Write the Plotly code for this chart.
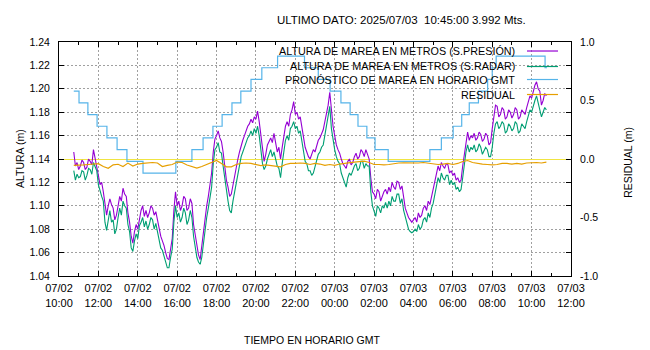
import pandas as pd
import plotly.graph_objects as go

# ---- data -------------------------------------------------------------
# Sea level (m), 5-minute samples starting 2025-07-02 10:45 GMT
START = "2025-07-02 10:45"
PRESION = [
    1.146, 1.134, 1.137,
    1.131, 1.134, 1.139, 1.137, 1.131, 1.133, 1.140, 1.138, 1.135, 1.148, 1.141, 1.136,  # 11h
    1.126, 1.118, 1.120, 1.112, 1.100, 1.092, 1.100, 1.106, 1.101, 1.098, 1.088, 1.092,  # 12h
    1.100, 1.108, 1.104, 1.115, 1.110, 1.108, 1.094, 1.086, 1.074, 1.068, 1.078, 1.084,  # 13h
    1.080, 1.090, 1.096, 1.100, 1.091, 1.096, 1.090, 1.094, 1.100, 1.098, 1.092, 1.095,  # 14h
    1.088, 1.078, 1.074, 1.070, 1.066, 1.060, 1.055, 1.054, 1.064, 1.072, 1.096, 1.112,  # 15h
    1.100, 1.104, 1.096, 1.100, 1.108, 1.106, 1.096, 1.098, 1.106, 1.102, 1.084, 1.075,  # 16h
    1.064, 1.058, 1.054, 1.066, 1.078, 1.090, 1.100, 1.108, 1.120, 1.128, 1.146, 1.157,  # 17h
    1.160, 1.164, 1.158, 1.155, 1.146, 1.134, 1.122, 1.116, 1.108, 1.110, 1.118, 1.124,  # 18h
    1.132, 1.140, 1.146, 1.152, 1.156, 1.160, 1.164, 1.168, 1.170, 1.174, 1.171, 1.176,  # 19h
    1.174, 1.181, 1.172, 1.160, 1.146, 1.138, 1.144, 1.152, 1.155, 1.158, 1.154, 1.162,  # 20h
    1.154, 1.146, 1.150, 1.140, 1.150, 1.160, 1.168, 1.172, 1.168, 1.178, 1.182, 1.189,  # 21h
    1.178, 1.180, 1.174, 1.176, 1.166, 1.156, 1.150, 1.146, 1.142, 1.140, 1.144, 1.148,  # 22h
    1.146, 1.152, 1.156, 1.158, 1.162, 1.165, 1.172, 1.178, 1.186, 1.197, 1.180, 1.168,  # 23h
    1.160, 1.152, 1.148, 1.145, 1.140, 1.136, 1.134, 1.132, 1.138, 1.140, 1.135, 1.137,  # 00h
    1.142, 1.145, 1.140, 1.142, 1.148, 1.146, 1.142, 1.148, 1.144, 1.140, 1.124, 1.112,  # 01h
    1.110, 1.106, 1.114, 1.112, 1.104, 1.108, 1.112, 1.114, 1.110, 1.116, 1.112, 1.120,  # 02h
    1.116, 1.114, 1.121, 1.120, 1.114, 1.117, 1.106, 1.098, 1.094, 1.090, 1.088, 1.086,  # 03h
    1.088, 1.090, 1.086, 1.094, 1.090, 1.092, 1.098, 1.100, 1.096, 1.104, 1.101, 1.108,  # 04h
    1.112, 1.120, 1.128, 1.134, 1.130, 1.137, 1.134, 1.132, 1.136, 1.135, 1.128, 1.130,  # 05h
    1.126, 1.128, 1.122, 1.124, 1.120, 1.122, 1.134, 1.145, 1.156, 1.163, 1.156, 1.160,  # 06h
    1.158, 1.162, 1.156, 1.158, 1.163, 1.161, 1.155, 1.157, 1.162, 1.160, 1.152, 1.154,  # 07h
    1.166, 1.178, 1.186, 1.185, 1.176, 1.178, 1.184, 1.182, 1.174, 1.176, 1.182, 1.180,  # 08h
    1.175, 1.178, 1.184, 1.182, 1.174, 1.176, 1.182, 1.180, 1.178, 1.184, 1.190, 1.194,  # 09h
    1.192, 1.198, 1.203, 1.206, 1.200, 1.198, 1.186, 1.190, 1.196, 1.194,                # 10h
]
RADAR = [
    1.130, 1.122, 1.127,
    1.124, 1.125, 1.130, 1.129, 1.122, 1.126, 1.132, 1.131, 1.127, 1.137, 1.133, 1.130,  # 11h
    1.118, 1.112, 1.108, 1.104, 1.086, 1.079, 1.090, 1.096, 1.086, 1.088, 1.076, 1.080,  # 12h
    1.090, 1.098, 1.092, 1.104, 1.100, 1.098, 1.084, 1.078, 1.064, 1.061, 1.070, 1.076,  # 13h
    1.072, 1.083, 1.086, 1.090, 1.082, 1.087, 1.080, 1.084, 1.090, 1.088, 1.080, 1.085,  # 14h
    1.078, 1.070, 1.064, 1.062, 1.056, 1.052, 1.047, 1.047, 1.056, 1.063, 1.086, 1.100,  # 15h
    1.090, 1.094, 1.086, 1.090, 1.098, 1.094, 1.084, 1.088, 1.096, 1.090, 1.074, 1.066,  # 16h
    1.056, 1.052, 1.050, 1.056, 1.068, 1.080, 1.090, 1.098, 1.108, 1.116, 1.136, 1.148,  # 17h
    1.150, 1.154, 1.146, 1.145, 1.134, 1.124, 1.110, 1.104, 1.096, 1.094, 1.104, 1.112,  # 18h
    1.120, 1.128, 1.134, 1.142, 1.146, 1.150, 1.154, 1.158, 1.160, 1.164, 1.160, 1.166,  # 19h
    1.162, 1.168, 1.160, 1.148, 1.136, 1.131, 1.134, 1.140, 1.144, 1.148, 1.142, 1.146,  # 20h
    1.140, 1.134, 1.132, 1.124, 1.136, 1.148, 1.156, 1.160, 1.156, 1.166, 1.168, 1.172,  # 21h
    1.166, 1.168, 1.162, 1.164, 1.154, 1.144, 1.138, 1.136, 1.130, 1.130, 1.126, 1.128,  # 22h
    1.134, 1.140, 1.144, 1.146, 1.150, 1.152, 1.160, 1.166, 1.174, 1.185, 1.166, 1.156,  # 23h
    1.148, 1.142, 1.138, 1.136, 1.128, 1.124, 1.120, 1.116, 1.124, 1.128, 1.126, 1.130,  # 00h
    1.134, 1.136, 1.130, 1.132, 1.138, 1.138, 1.132, 1.136, 1.134, 1.134, 1.112, 1.100,  # 01h
    1.096, 1.091, 1.100, 1.098, 1.094, 1.100, 1.098, 1.103, 1.098, 1.104, 1.100, 1.108,  # 02h
    1.104, 1.104, 1.110, 1.110, 1.102, 1.106, 1.096, 1.090, 1.084, 1.080, 1.078, 1.077,  # 03h
    1.078, 1.080, 1.078, 1.084, 1.080, 1.082, 1.088, 1.090, 1.086, 1.094, 1.090, 1.098,  # 04h
    1.102, 1.110, 1.118, 1.124, 1.120, 1.128, 1.124, 1.122, 1.126, 1.126, 1.118, 1.122,  # 05h
    1.118, 1.120, 1.114, 1.116, 1.112, 1.114, 1.124, 1.136, 1.146, 1.152, 1.146, 1.150,  # 06h
    1.148, 1.152, 1.146, 1.148, 1.153, 1.150, 1.144, 1.147, 1.150, 1.148, 1.142, 1.142,  # 07h
    1.150, 1.162, 1.170, 1.172, 1.166, 1.168, 1.172, 1.170, 1.162, 1.164, 1.170, 1.168,  # 08h
    1.164, 1.166, 1.172, 1.170, 1.162, 1.164, 1.170, 1.168, 1.166, 1.172, 1.178, 1.182,  # 09h
    1.180, 1.186, 1.190, 1.194, 1.188, 1.184, 1.176, 1.180, 1.184, 1.182,                # 10h
]

# Tide forecast (m): value holds from each time until the next one
PRONOSTICO_T = [
    "2025-07-02 10:45", "2025-07-02 11:01", "2025-07-02 11:28", "2025-07-02 11:56",
    "2025-07-02 12:26", "2025-07-02 12:57", "2025-07-02 13:27", "2025-07-02 14:16",
    "2025-07-02 15:56", "2025-07-02 16:45", "2025-07-02 17:19", "2025-07-02 17:49",
    "2025-07-02 18:17", "2025-07-02 18:47", "2025-07-02 19:14", "2025-07-02 19:45",
    "2025-07-02 20:18", "2025-07-02 21:06", "2025-07-02 22:28", "2025-07-02 23:10",
    "2025-07-02 23:46", "2025-07-03 00:19", "2025-07-03 00:47", "2025-07-03 01:11",
    "2025-07-03 01:38", "2025-07-03 02:03", "2025-07-03 02:43", "2025-07-03 04:50",
    "2025-07-03 05:25", "2025-07-03 06:01", "2025-07-03 06:27", "2025-07-03 06:50",
    "2025-07-03 07:18", "2025-07-03 07:46", "2025-07-03 08:00", "2025-07-03 08:12",
    "2025-07-03 10:41", "2025-07-03 10:47",
]
PRONOSTICO_V = [
    1.198, 1.188, 1.178, 1.168,
    1.158, 1.148, 1.138, 1.128,
    1.138, 1.148, 1.158, 1.168,
    1.178, 1.188, 1.198, 1.208,
    1.218, 1.228, 1.218, 1.208,
    1.198, 1.188, 1.178, 1.168,
    1.158, 1.148, 1.138, 1.148,
    1.158, 1.168, 1.178, 1.188,
    1.198, 1.208, 1.218, 1.228,
    1.218, 1.218,
]

# Residual (m), 15-minute samples starting 2025-07-02 10:45 GMT
RESIDUAL = [
    -0.055,
    -0.055, -0.051, -0.047, -0.043,   # 11h
    -0.040, -0.064, -0.080, -0.050,   # 12h
    -0.045, -0.064, -0.035, -0.060,   # 13h
    -0.043, -0.038, -0.035, -0.030,   # 14h
    -0.034, -0.064, -0.055, -0.047,   # 15h
    -0.026, -0.030, -0.051, -0.064,   # 16h
    -0.077, -0.064, -0.047, -0.026,   # 17h
    -0.013, -0.038, -0.067, -0.067,   # 18h
    -0.047, -0.038, -0.034, -0.038,   # 19h
    -0.047, -0.056, -0.051, -0.056,   # 20h
    -0.064, -0.067, -0.047, -0.038,   # 21h
    -0.038, -0.034, -0.038, -0.047,   # 22h
    -0.038, -0.043, -0.055, -0.047,   # 23h
    -0.055, -0.043, -0.038, -0.030,   # 00h
    -0.026, -0.022, -0.019, -0.030,   # 01h
    -0.047, -0.047, -0.051, -0.047,   # 02h
    -0.038, -0.034, -0.033, -0.034,   # 03h
    -0.038, -0.034, -0.030, -0.034,   # 04h
    -0.038, -0.047, -0.043, -0.038,   # 05h
    -0.047, -0.038, -0.021, -0.013,   # 06h
    -0.030, -0.038, -0.043, -0.047,   # 07h
    -0.051, -0.047, -0.038, -0.038,   # 08h
    -0.043, -0.038, -0.043, -0.034,   # 09h
    -0.030, -0.030, -0.034, -0.027,   # 10h
]

SERIES_NAMES = [
    "ALTURA DE MAREA EN METROS (S.PRESIÓN)",
    "ALTURA DE MAREA EN METROS (S.RADAR)",
    "PRONÓSTICO DE MAREA EN HORARIO GMT",
    "RESIDUAL",
]
COLORS = ["#9400d3", "#009e73", "#56b4e9", "#e69f00"]
Y2_TICKVALS = [-1.0, -0.5, 0.0, 0.5, 1.0]
Y2_TICKTEXT = ["-1.0", "-0.5", "0.0", "0.5", "1.0"]
TITLE = "ULTIMO DATO: 2025/07/03 \u00a010:45:00 3.992 Mts."
X_RANGE = ["2025-07-02 10:00", "2025-07-03 12:00"]

# ---- build ------------------------------------------------------------
t5 = pd.date_range(START, periods=len(PRESION), freq="5min")
t15 = pd.date_range(START, periods=len(RESIDUAL), freq="15min")

fig = go.Figure()
fig.add_trace(go.Scatter(x=t5, y=PRESION, mode="lines", name=SERIES_NAMES[0],
                         line=dict(color=COLORS[0], width=1.1)))
fig.add_trace(go.Scatter(x=t5, y=RADAR, mode="lines", name=SERIES_NAMES[1],
                         line=dict(color=COLORS[1], width=1.1)))
fig.add_trace(go.Scatter(x=pd.to_datetime(PRONOSTICO_T), y=PRONOSTICO_V, mode="lines",
                         name=SERIES_NAMES[2], line=dict(color=COLORS[2], width=1.2, shape="hv")))
fig.add_trace(go.Scatter(x=t15, y=RESIDUAL, mode="lines", name=SERIES_NAMES[3],
                         xaxis="x2", yaxis="y2", line=dict(color=COLORS[3], width=1.2)))

comic = "Liberation Sans"
black = "#000"
tick_font = dict(family="Liberation Sans Narrow, Liberation Sans", size=10.5, color=black)
grid = dict(showgrid=True, gridcolor="#a0a0a0", gridwidth=1, griddash="2px,2px")
two_h = 2 * 3600 * 1000

fig.update_layout(
    width=650, height=350,
    margin=dict(l=59, r=79, t=42, b=74),
    paper_bgcolor="white", plot_bgcolor="white",
    font=dict(family=comic, color=black),
    showlegend=False,
    xaxis=dict(type="date", range=X_RANGE, tick0="2025-07-02 10:00", dtick=two_h,
               tickformat="%m/%d", ticks="inside", ticklen=5, tickcolor=black,
               minor=dict(dtick=3600 * 1000, ticks="inside", ticklen=3, tickcolor=black),
               showline=True, linecolor=black, linewidth=1, mirror="ticks",
               tickfont=dict(family=comic, size=11, color=black),
               ticklabelstandoff=2, zeroline=False, **grid),
    xaxis2=dict(type="date", range=X_RANGE, tick0="2025-07-02 10:00", dtick=two_h,
                tickformat="%H:%M", overlaying="x", anchor="y", side="bottom",
                ticks="", showline=False, showgrid=False, zeroline=False,
                tickfont=dict(family=comic, size=11, color=black),
                ticklabelstandoff=19),
    yaxis=dict(range=[1.04, 1.24], tick0=1.04, dtick=0.02, tickformat=".2f",
               ticks="inside", ticklen=5, tickcolor=black,
               showline=True, linecolor=black, linewidth=1, mirror="ticks",
               tickfont=tick_font, ticklabelstandoff=6, zeroline=False, **grid),
    yaxis2=dict(range=[-1, 1], tickvals=Y2_TICKVALS, ticktext=Y2_TICKTEXT,
                overlaying="y", side="right", anchor="x2", ticks="",
                showline=True, linecolor=black, linewidth=1, showgrid=False,
                zeroline=True, zerolinecolor="#f0e442", zerolinewidth=1,
                tickfont=tick_font, ticklabelstandoff=6),
)

# Title and axis titles
ann = [
    dict(text=TITLE, x=0.668, y=1.094, font=dict(family=comic, size=11.5, color=black)),
    dict(text="ALTURA (m)", x=-0.0762, y=0.504, textangle=-90,
         font=dict(family="Liberation Sans", size=10.5, color=black)),
    dict(text="RESIDUAL (m)", x=1.111, y=0.487, textangle=-90,
         font=dict(family="Liberation Sans", size=10.5, color=black)),
    dict(text="TIEMPO EN HORARIO GMT", x=0.496, y=-0.2735,
         font=dict(family=comic, size=10.5, color=black)),
]
for a in ann:
    fig.add_annotation(xref="paper", yref="paper", showarrow=False,
                       xanchor="center", yanchor="middle", **a)

# Key: right-aligned labels with a line sample to their right
key_rows = [0.9615, 0.8953, 0.8397, 0.7756]
for name, color, yy in zip(SERIES_NAMES, COLORS, key_rows):
    fig.add_annotation(xref="paper", yref="paper", x=0.8955, y=yy, text=name,
                       showarrow=False, xanchor="right", yanchor="middle",
                       font=dict(family=comic, size=10.8, color=black))
    fig.add_shape(type="line", xref="paper", yref="paper", x0=0.914, x1=0.9746,
                  y0=yy, y1=yy, line=dict(color=color, width=1.2))

fig.write_html("out.html")
